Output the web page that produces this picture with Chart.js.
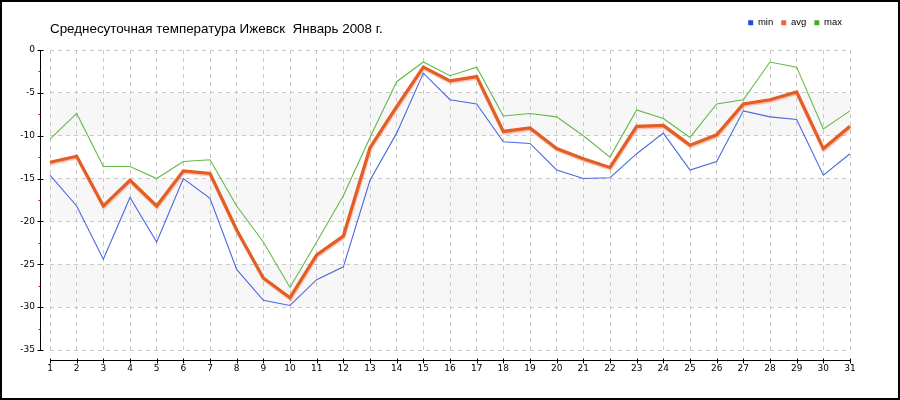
<!DOCTYPE html>
<html>
<head>
<meta charset="utf-8">
<script src="https://cdn.jsdelivr.net/npm/chart.js@4"></script>
<style>
html,body{margin:0;padding:0;background:#fff;}
canvas{display:block;}
</style>
</head>
<body>
<canvas id="c" width="900" height="400"></canvas>
<script>
const chartTitle = "Среднесуточная температура Ижевск  Январь 2008 г.";
const days = ["1","2","3","4","5","6","7","8","9","10","11","12","13","14","15","16","17","18","19","20","21","22","23","24","25","26","27","28","29","30","31"];
const minT = [-14.6,-18.2,-24.4,-17.2,-22.4,-15.0,-17.3,-25.6,-29.2,-29.8,-26.8,-25.3,-15.2,-9.7,-2.7,-5.8,-6.3,-10.7,-10.9,-14.0,-15.0,-14.9,-12.1,-9.7,-14.0,-13.0,-7.1,-7.8,-8.1,-14.6,-12.1];
const avgT = [-13.1,-12.4,-18.2,-15.2,-18.2,-14.1,-14.4,-21.0,-26.6,-28.9,-23.9,-21.7,-11.4,-6.6,-2.0,-3.6,-3.1,-9.5,-9.1,-11.5,-12.7,-13.7,-8.9,-8.8,-11.1,-9.9,-6.3,-5.8,-4.9,-11.5,-8.9];
const maxT = [-10.4,-7.4,-13.6,-13.6,-15.0,-13.0,-12.8,-18.2,-22.4,-27.7,-22.4,-17.0,-10.2,-3.7,-1.4,-3.0,-2.0,-7.7,-7.4,-7.8,-10.0,-12.5,-7.0,-8.0,-10.2,-6.3,-5.8,-1.4,-2.0,-9.2,-7.1];
const seriesNames = ["min","avg","max"];
const yMin = -35, yMax = 0, yStep = 5;

const lineColors = ["#4a68e0","#e35d25","#66b848"];
const legendColors = ["#2448e0","#ee6630","#48ac24"];

const decorPlugin = {
  id: 'decor',
  beforeInit(chart) {
    const lg = chart.legend;
    if (lg) {
      const orig = lg.fit;
      lg.fit = function() { orig.call(this); this.height = 40; };
    }
  },
  beforeDraw(chart) {
    const ctx = chart.ctx, ca = chart.chartArea, y = chart.scales.y;
    ctx.save();
    ctx.fillStyle = '#fff';
    ctx.fillRect(0,0,chart.width,chart.height);
    ctx.fillStyle = '#f7f7f7';
    for (let v = -5; v > yMin; v -= 10) {
      const t = y.getPixelForValue(v), b = y.getPixelForValue(v - 5);
      ctx.fillRect(ca.left, t, ca.right - ca.left, b - t);
    }
    ctx.restore();
  },
  beforeDatasetDraw(chart, args) {
    if (args.index === 1) {
      const ctx = chart.ctx;
      ctx.save();
      ctx.shadowColor = 'rgba(235,120,90,0.45)';
      ctx.shadowOffsetX = 0.5;
      ctx.shadowOffsetY = 1.5;
      ctx.shadowBlur = 1;
    }
  },
  afterDatasetDraw(chart, args) {
    if (args.index === 1) chart.ctx.restore();
  },
  afterDraw(chart) {
    const ctx = chart.ctx, ca = chart.chartArea, y = chart.scales.y, x = chart.scales.x;
    ctx.save();
    // y axis
    ctx.strokeStyle = '#000';
    ctx.lineWidth = 1;
    const ax = ca.left - 9.5;
    ctx.beginPath();
    ctx.moveTo(ax, y.getPixelForValue(yMax));
    ctx.lineTo(ax, y.getPixelForValue(yMin) + 0.5);
    ctx.stroke();
    for (let v = yMax; v >= yMin; v -= yStep) {
      const p = Math.round(y.getPixelForValue(v)) + 0.5;
      ctx.beginPath(); ctx.moveTo(ax - 3, p); ctx.lineTo(ax + 3, p); ctx.stroke();
    }
    ctx.strokeStyle = '#e00000';
    for (let v = yMax - yStep/2; v > yMin; v -= yStep) {
      const p = Math.round(y.getPixelForValue(v)) + 0.5;
      ctx.beginPath(); ctx.moveTo(ax - 2, p); ctx.lineTo(ax, p); ctx.stroke();
    }
    // x axis
    ctx.strokeStyle = '#000';
    const ay = ca.bottom + 10.5;
    ctx.beginPath();
    ctx.moveTo(x.getPixelForValue(0), ay);
    ctx.lineTo(x.getPixelForValue(days.length - 1) + 0.5, ay);
    ctx.stroke();
    for (let i = 0; i < days.length; i++) {
      const p = Math.round(x.getPixelForValue(i)) + 0.5;
      ctx.beginPath(); ctx.moveTo(p, ay - 2); ctx.lineTo(p, ay + 3); ctx.stroke();
    }
    // title
    ctx.fillStyle = '#000';
    ctx.font = '13.4px "Liberation Sans", Arial, sans-serif';
    ctx.textBaseline = 'alphabetic';
    ctx.textAlign = 'left';
    ctx.fillText(chartTitle, ca.left, 33);
    // frame
    ctx.strokeStyle = '#000';
    ctx.lineWidth = 2;
    ctx.strokeRect(1, 1, chart.width - 2, chart.height - 2);
    ctx.restore();
  }
};

const datasets = [minT, avgT, maxT].map((d, i) => ({
  label: seriesNames[i],
  data: d,
  borderColor: lineColors[i],
  backgroundColor: legendColors[i],
  borderWidth: i === 1 ? 3.2 : 1.1,
  pointRadius: 0,
  tension: 0,
  fill: false
}));

new Chart(document.getElementById('c'), {
  type: 'line',
  data: { labels: days, datasets },
  plugins: [decorPlugin],
  options: {
    responsive: false,
    animation: false,
    events: [],
    layout: { padding: { top: 10, right: 50, left: 0, bottom: 0 } },
    plugins: {
      title: { display: false },
      tooltip: { enabled: false },
      legend: {
        display: true,
        position: 'top',
        align: 'end',
        labels: {
          boxWidth: 5,
          boxHeight: 5,
          padding: 8,
          color: '#000',
          font: { family: '"Liberation Sans", Arial, sans-serif', size: 9.5 },
          generateLabels(chart) {
            return chart.data.datasets.map((ds, i) => ({
              text: ds.label,
              fillStyle: legendColors[i],
              strokeStyle: legendColors[i],
              lineWidth: 0,
              hidden: false,
              datasetIndex: i,
              fontColor: '#000'
            }));
          }
        }
      }
    },
    scales: {
      x: {
        type: 'category',
        offset: false,
        afterFit(s) { s.height = 50; },
        grid: { color: '#c8c8c8', lineWidth: 1, drawTicks: false, tickLength: 0 },
        border: { display: false, dash: [4,4] },
        ticks: {
          padding: 13,
          color: '#000',
          maxRotation: 0,
          autoSkip: false,
          font: { family: '"DejaVu Sans", Tahoma, sans-serif', size: 9 }
        }
      },
      y: {
        min: yMin,
        max: yMax,
        afterFit(s) { s.width = 50; },
        grid: { color: '#c8c8c8', lineWidth: 1, drawTicks: false, tickLength: 0 },
        border: { display: false, dash: [4,4] },
        ticks: {
          stepSize: yStep,
          padding: 15,
          color: '#000',
          font: { family: '"DejaVu Sans", Tahoma, sans-serif', size: 9 }
        }
      }
    }
  }
});
</script>
</body>
</html>
